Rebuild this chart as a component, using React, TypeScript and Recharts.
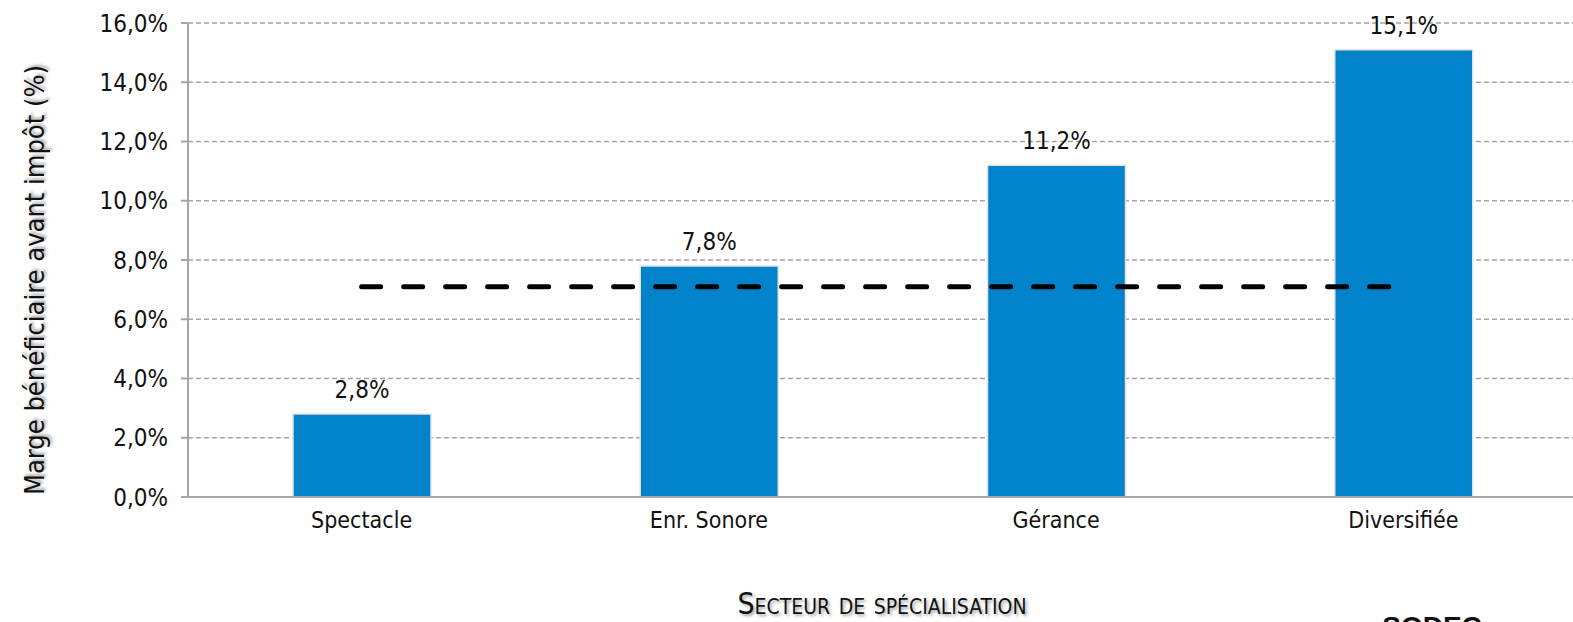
import { ComposedChart, Bar, Line, XAxis, YAxis, CartesianGrid, LabelList } from "recharts";

const categories = ["Spectacle", "Enr. Sonore", "Gérance", "Diversifiée"];
const marges = [2.8, 7.8, 11.2, 15.1];
const moyenne = [7.1, 7.1, 7.1, 7.1];
const yTicks = [0, 2, 4, 6, 8, 10, 12, 14, 16];

const data = categories.map((c, i) => ({ secteur: c, marge: marges[i], moyenne: moyenne[i] }));

const FONT = "'DejaVu Sans Condensed', 'Open Sans', sans-serif";
const fmt = (v: number) => v.toFixed(1).replace(".", ",") + "%";

export default function App() {
  return (
    <div style={{ position: "relative", width: 1573, height: 622, overflow: "hidden", background: "#fff", fontFamily: FONT }}>
      <style>{`body{margin:0;}`}</style>
      <ComposedChart
        width={1577}
        height={622}
        data={data}
        margin={{ top: 23, right: 0, bottom: 0, left: 0 }}
        barCategoryGap="20%"
      >
        <CartesianGrid vertical={false} stroke="#a3a3a3" strokeDasharray="5 3" strokeWidth={1.5} />
        <XAxis
          dataKey="secteur"
          height={125}
          tickLine={false}
          axisLine={{ stroke: "#a6a6a6", strokeWidth: 2 }}
          tick={{ fill: "#111", fontSize: 23, fontFamily: FONT }}
          tickMargin={9}
        />
        <YAxis
          width={188}
          domain={[0, 16]}
          ticks={yTicks}
          interval={0}
          tickFormatter={fmt}
          tickSize={7}
          tickLine={{ stroke: "#a6a6a6", strokeWidth: 2 }}
          axisLine={{ stroke: "#a6a6a6", strokeWidth: 2 }}
          tick={{ fill: "#111", fontSize: 24, fontFamily: FONT }}
          tickMargin={13}
        />
        <Bar dataKey="marge" fill="#0083cb" stroke="#e4e4e4" strokeWidth={1.5} barSize={138} isAnimationActive={false}>
          <LabelList
            dataKey="marge"
            position="top"
            offset={16}
            formatter={(v: any) => fmt(Number(v))}
            style={{ fill: "#111", fontSize: 24, fontFamily: FONT }}
          />
        </Bar>
        <Line
          dataKey="moyenne"
          type="linear"
          stroke="#000"
          strokeWidth={5}
          strokeDasharray="19 23"
          strokeLinecap="round"
          dot={false}
          activeDot={false}
          isAnimationActive={false}
        />
      </ComposedChart>
      <div
        style={{
          position: "absolute",
          left: 35,
          top: 280,
          transform: "translate(-50%, -50%) rotate(-90deg)",
          whiteSpace: "nowrap",
          fontSize: 27,
          lineHeight: 1.1,
          color: "#111",
          textShadow: "2px 2px 3px rgba(0,0,0,0.35)",
        }}
      >
        Marge bénéficiaire avant impôt (%)
      </div>
      <div
        style={{
          position: "absolute",
          left: 882,
          top: 604,
          transform: "translate(-50%, -50%)",
          whiteSpace: "nowrap",
          fontSize: 30,
          lineHeight: 1,
          fontVariant: "small-caps",
          color: "#111",
          textShadow: "2px 2px 3px rgba(0,0,0,0.35)",
        }}
      >
        Secteur de spécialisation
      </div>
      <div
        style={{
          position: "absolute",
          left: 1432,
          top: 613,
          transform: "translateX(-50%)",
          fontSize: 28,
          fontWeight: "bold",
          color: "#111",
          fontFamily: "'Liberation Sans', sans-serif",
          lineHeight: 1,
        }}
      >
        SODEC
      </div>
    </div>
  );
}
